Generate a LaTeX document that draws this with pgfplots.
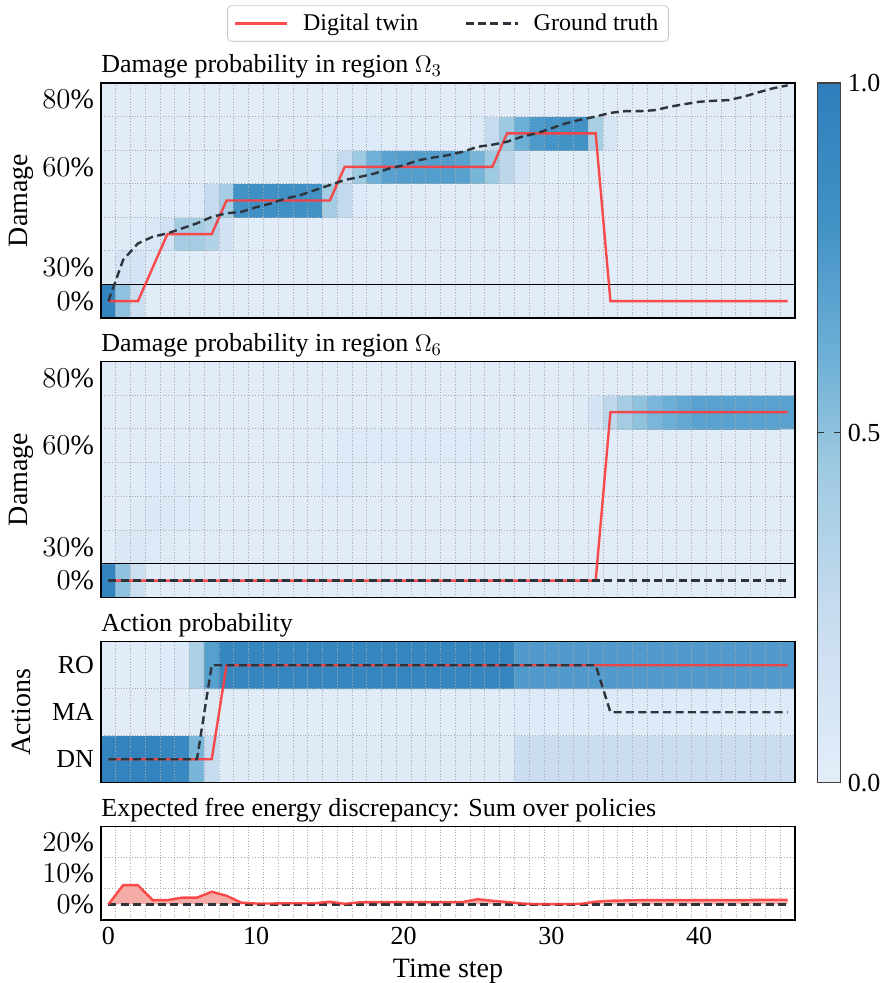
\documentclass[border=0pt]{standalone}
\usepackage{fontspec}
\setmainfont{Liberation Serif}
\usepackage{pgfplots}
\pgfplotsset{compat=1.18}
\definecolor{twin}{RGB}{250,62,62}
\definecolor{truth}{RGB}{45,52,60}
\definecolor{gridc}{RGB}{170,170,170}
\definecolor{twinfill}{RGB}{246,172,166}
\pgfplotsset{
  colormap={myblues}{rgb255(0pt)=(227,238,249) rgb255(25pt)=(198,219,239) rgb255(45pt)=(158,202,225) rgb255(62pt)=(107,174,214) rgb255(80pt)=(66,146,198) rgb255(100pt)=(46,126,188)},
  base/.style={
    scale only axis, width=347pt, anchor=north west,
    xmin=-0.5, xmax=46.5,
    axis line style={black, line width=0.6pt},
    colormap name=myblues, point meta min=0, point meta max=1,
  },
  heatax/.style={base, xtick=\empty, ytick=\empty},
  panel/.style={base,
    xtick={0,10,20,30,40}, xticklabels={},
    minor xtick={0.5,1.5,...,45.5},
    major tick length=0pt, minor tick length=0pt,
    xminorgrids, yminorgrids,
    minor grid style={gridc, densely dotted, line width=0.45pt},
    tick label style={font=\fontsize{13}{15}\selectfont},
    ylabel style={font=\fontsize{14}{17}\selectfont, at={(axis description cs:0,0.5)}, anchor=center, yshift=39.6pt},
    title style={font=\fontsize{13}{15}\selectfont, at={(axis description cs:0,1)}, anchor=base west, yshift=-1pt, inner sep=0pt},
  },
  pct/.style={yticklabel style={font=\fontsize{14}{16}\selectfont}},
  dmg/.style={pct,
    ymin=-0.5, ymax=6.5, ytick={0,1,4,6},
    yticklabels={$0\%$,$30\%$,$60\%$,$80\%$},
    minor ytick={1.5,2.5,3.5,4.5,5.5},
    extra y ticks={0.5}, extra y tick labels={},
    extra y tick style={grid=major, major grid style={black, solid, line width=0.6pt}},
  },
  twinline/.style={twin, line width=1.2pt, opacity=0.92},
  truthline/.style={truth, line width=1.2pt, dash pattern=on 4pt off 2.2pt},
  heat/.style={matrix plot*, mesh/cols=47, point meta=explicit},
}
\begin{document}
\begin{tikzpicture}
\useasboundingbox (0,0) rectangle (444.5pt,-491.5pt);
% ---------------- Panel 1 heat ----------------
\begin{axis}[heatax, at={(50.5pt,-41.5pt)}, height=117.5pt, ymin=-0.5, ymax=6.5,
  colorbar,
  colorbar style={at={(parent axis.north east)}, anchor=north west, xshift=2.6pt,
    width=11.7pt, height=349.8pt,
    ytick={0,0.5,1}, yticklabels={0.0,0.5,1.0},
    yticklabel style={font=\fontsize{13}{15}\selectfont},
    major tick length=3.2pt,
    tick style={black!80, line width=0.6pt},
    axis line style={black!75, line width=0.6pt}},
]
\addplot[heat] table[meta=c, row sep=\\] {x y c\\
0 0 0.95\\ 1 0 0.50\\ 2 0 0.20\\ 3 0 0.03\\ 4 0 0.02\\ 5 0 0.02\\ 6 0 0.02\\ 7 0 0.02\\ 8 0 0.02\\ 9 0 0.02\\ 10 0 0.02\\ 11 0 0.02\\ 12 0 0.02\\ 13 0 0.02\\ 14 0 0.02\\ 15 0 0.02\\ 16 0 0.02\\ 17 0 0.02\\ 18 0 0.02\\ 19 0 0.02\\ 20 0 0.02\\ 21 0 0.02\\ 22 0 0.02\\ 23 0 0.02\\ 24 0 0.02\\ 25 0 0.02\\ 26 0 0.02\\ 27 0 0.02\\ 28 0 0.02\\ 29 0 0.02\\ 30 0 0.02\\ 31 0 0.02\\ 32 0 0.02\\ 33 0 0.02\\ 34 0 0.02\\ 35 0 0.02\\ 36 0 0.02\\ 37 0 0.02\\ 38 0 0.02\\ 39 0 0.02\\ 40 0 0.02\\ 41 0 0.02\\ 42 0 0.02\\ 43 0 0.02\\ 44 0 0.02\\ 45 0 0.02\\ 46 0 0.02\\
0 1 0.04\\ 1 1 0.13\\ 2 1 0.13\\ 3 1 0.07\\ 4 1 0.04\\ 5 1 0.03\\ 6 1 0.03\\ 7 1 0.02\\ 8 1 0.02\\ 9 1 0.02\\ 10 1 0.02\\ 11 1 0.02\\ 12 1 0.02\\ 13 1 0.02\\ 14 1 0.02\\ 15 1 0.02\\ 16 1 0.02\\ 17 1 0.02\\ 18 1 0.02\\ 19 1 0.02\\ 20 1 0.02\\ 21 1 0.02\\ 22 1 0.02\\ 23 1 0.02\\ 24 1 0.02\\ 25 1 0.02\\ 26 1 0.02\\ 27 1 0.02\\ 28 1 0.02\\ 29 1 0.02\\ 30 1 0.02\\ 31 1 0.02\\ 32 1 0.02\\ 33 1 0.02\\ 34 1 0.02\\ 35 1 0.02\\ 36 1 0.02\\ 37 1 0.02\\ 38 1 0.02\\ 39 1 0.02\\ 40 1 0.02\\ 41 1 0.02\\ 42 1 0.02\\ 43 1 0.02\\ 44 1 0.02\\ 45 1 0.02\\ 46 1 0.02\\
0 2 0.02\\ 1 2 0.04\\ 2 2 0.05\\ 3 2 0.09\\ 4 2 0.16\\ 5 2 0.42\\ 6 2 0.42\\ 7 2 0.35\\ 8 2 0.16\\ 9 2 0.04\\ 10 2 0.03\\ 11 2 0.02\\ 12 2 0.02\\ 13 2 0.02\\ 14 2 0.02\\ 15 2 0.02\\ 16 2 0.02\\ 17 2 0.02\\ 18 2 0.02\\ 19 2 0.02\\ 20 2 0.02\\ 21 2 0.02\\ 22 2 0.02\\ 23 2 0.02\\ 24 2 0.02\\ 25 2 0.02\\ 26 2 0.02\\ 27 2 0.02\\ 28 2 0.02\\ 29 2 0.02\\ 30 2 0.02\\ 31 2 0.02\\ 32 2 0.02\\ 33 2 0.02\\ 34 2 0.02\\ 35 2 0.02\\ 36 2 0.02\\ 37 2 0.02\\ 38 2 0.02\\ 39 2 0.02\\ 40 2 0.02\\ 41 2 0.02\\ 42 2 0.02\\ 43 2 0.02\\ 44 2 0.02\\ 45 2 0.02\\ 46 2 0.02\\
0 3 0.02\\ 1 3 0.02\\ 2 3 0.02\\ 3 3 0.03\\ 4 3 0.05\\ 5 3 0.05\\ 6 3 0.06\\ 7 3 0.25\\ 8 3 0.42\\ 9 3 0.80\\ 10 3 0.82\\ 11 3 0.82\\ 12 3 0.82\\ 13 3 0.82\\ 14 3 0.80\\ 15 3 0.42\\ 16 3 0.27\\ 17 3 0.05\\ 18 3 0.03\\ 19 3 0.03\\ 20 3 0.02\\ 21 3 0.02\\ 22 3 0.02\\ 23 3 0.02\\ 24 3 0.02\\ 25 3 0.02\\ 26 3 0.02\\ 27 3 0.02\\ 28 3 0.02\\ 29 3 0.02\\ 30 3 0.02\\ 31 3 0.02\\ 32 3 0.02\\ 33 3 0.02\\ 34 3 0.02\\ 35 3 0.02\\ 36 3 0.02\\ 37 3 0.02\\ 38 3 0.02\\ 39 3 0.02\\ 40 3 0.02\\ 41 3 0.02\\ 42 3 0.02\\ 43 3 0.02\\ 44 3 0.02\\ 45 3 0.02\\ 46 3 0.02\\
0 4 0.02\\ 1 4 0.02\\ 2 4 0.02\\ 3 4 0.02\\ 4 4 0.02\\ 5 4 0.02\\ 6 4 0.02\\ 7 4 0.03\\ 8 4 0.04\\ 9 4 0.04\\ 10 4 0.04\\ 11 4 0.04\\ 12 4 0.04\\ 13 4 0.04\\ 14 4 0.05\\ 15 4 0.10\\ 16 4 0.25\\ 17 4 0.45\\ 18 4 0.60\\ 19 4 0.70\\ 20 4 0.72\\ 21 4 0.72\\ 22 4 0.72\\ 23 4 0.72\\ 24 4 0.70\\ 25 4 0.58\\ 26 4 0.45\\ 27 4 0.30\\ 28 4 0.15\\ 29 4 0.04\\ 30 4 0.03\\ 31 4 0.03\\ 32 4 0.03\\ 33 4 0.04\\ 34 4 0.02\\ 35 4 0.02\\ 36 4 0.02\\ 37 4 0.02\\ 38 4 0.02\\ 39 4 0.02\\ 40 4 0.02\\ 41 4 0.02\\ 42 4 0.02\\ 43 4 0.02\\ 44 4 0.02\\ 45 4 0.02\\ 46 4 0.02\\
0 5 0.02\\ 1 5 0.02\\ 2 5 0.02\\ 3 5 0.02\\ 4 5 0.02\\ 5 5 0.02\\ 6 5 0.02\\ 7 5 0.02\\ 8 5 0.02\\ 9 5 0.02\\ 10 5 0.02\\ 11 5 0.02\\ 12 5 0.02\\ 13 5 0.02\\ 14 5 0.02\\ 15 5 0.05\\ 16 5 0.05\\ 17 5 0.05\\ 18 5 0.05\\ 19 5 0.03\\ 20 5 0.03\\ 21 5 0.03\\ 22 5 0.03\\ 23 5 0.03\\ 24 5 0.03\\ 25 5 0.06\\ 26 5 0.25\\ 27 5 0.45\\ 28 5 0.62\\ 29 5 0.75\\ 30 5 0.78\\ 31 5 0.80\\ 32 5 0.80\\ 33 5 0.40\\ 34 5 0.12\\ 35 5 0.02\\ 36 5 0.02\\ 37 5 0.02\\ 38 5 0.02\\ 39 5 0.02\\ 40 5 0.02\\ 41 5 0.02\\ 42 5 0.02\\ 43 5 0.02\\ 44 5 0.02\\ 45 5 0.02\\ 46 5 0.02\\
0 6 0.02\\ 1 6 0.02\\ 2 6 0.02\\ 3 6 0.02\\ 4 6 0.02\\ 5 6 0.02\\ 6 6 0.02\\ 7 6 0.02\\ 8 6 0.02\\ 9 6 0.02\\ 10 6 0.02\\ 11 6 0.02\\ 12 6 0.02\\ 13 6 0.02\\ 14 6 0.02\\ 15 6 0.02\\ 16 6 0.02\\ 17 6 0.02\\ 18 6 0.02\\ 19 6 0.02\\ 20 6 0.02\\ 21 6 0.02\\ 22 6 0.02\\ 23 6 0.02\\ 24 6 0.02\\ 25 6 0.02\\ 26 6 0.02\\ 27 6 0.02\\ 28 6 0.02\\ 29 6 0.02\\ 30 6 0.02\\ 31 6 0.02\\ 32 6 0.02\\ 33 6 0.03\\ 34 6 0.02\\ 35 6 0.02\\ 36 6 0.02\\ 37 6 0.02\\ 38 6 0.02\\ 39 6 0.02\\ 40 6 0.02\\ 41 6 0.02\\ 42 6 0.02\\ 43 6 0.02\\ 44 6 0.02\\ 45 6 0.02\\ 46 6 0.02\\
};
\end{axis}
% ---------------- Panel 1 lines ----------------
\begin{axis}[panel, dmg, at={(50.5pt,-41.5pt)}, height=117.5pt,
  title={Damage probability in region $\Omega_3$}, ylabel={Damage},
  legend style={at={(axis description cs:0.5,1)}, anchor=south, yshift=20.6pt,
    legend columns=2, draw=black!20, rounded corners=2pt, fill=white,
    font=\fontsize{12}{14}\selectfont, inner xsep=3pt, inner ysep=2pt,
    /tikz/every even column/.append style={column sep=21pt}},
  legend image code/.code={\draw[#1] (0pt,0pt) -- (26pt,0pt); \path (31.5pt,0pt);},
]
\addplot[twinline] coordinates {(0,0) (1,0) (2,0) (3,1) (4,2) (5,2) (6,2) (7,2) (8,3) (9,3) (10,3) (11,3) (12,3) (13,3) (14,3) (15,3) (16,4) (17,4) (18,4) (19,4) (20,4) (21,4) (22,4) (23,4) (24,4) (25,4) (26,4) (27,5) (28,5) (29,5) (30,5) (31,5) (32,5) (33,5) (34,0) (35,0) (36,0) (37,0) (38,0) (39,0) (40,0) (41,0) (42,0) (43,0) (44,0) (45,0) (46,0)};
\addlegendentry{Digital twin}
\addplot[truthline] coordinates {(0,0) (1,1.23) (2,1.72) (3,1.92) (4,2.02) (5,2.17) (6,2.32) (7,2.51) (8,2.62) (9,2.66) (10,2.80) (11,2.91) (12,3.06) (13,3.16) (14,3.31) (15,3.46) (16,3.61) (17,3.70) (18,3.80) (19,3.95) (20,4.05) (21,4.20) (22,4.28) (23,4.35) (24,4.45) (25,4.60) (26,4.66) (27,4.75) (28,4.90) (29,5.00) (30,5.15) (31,5.30) (32,5.41) (33,5.50) (34,5.61) (35,5.66) (36,5.66) (37,5.69) (38,5.79) (39,5.87) (40,5.94) (41,5.97) (42,5.99) (43,6.09) (44,6.22) (45,6.34) (46,6.43)};
\addlegendentry{Ground truth}
\end{axis}
% ---------------- Panel 2 heat ----------------
\begin{axis}[heatax, at={(50.5pt,-180.75pt)}, height=118pt, ymin=-0.5, ymax=6.5]
\addplot[heat] table[meta=c, row sep=\\] {x y c\\
0 0 0.95\\ 1 0 0.50\\ 2 0 0.20\\ 3 0 0.03\\ 4 0 0.02\\ 5 0 0.02\\ 6 0 0.02\\ 7 0 0.02\\ 8 0 0.02\\ 9 0 0.02\\ 10 0 0.02\\ 11 0 0.02\\ 12 0 0.02\\ 13 0 0.02\\ 14 0 0.02\\ 15 0 0.02\\ 16 0 0.02\\ 17 0 0.02\\ 18 0 0.02\\ 19 0 0.02\\ 20 0 0.02\\ 21 0 0.02\\ 22 0 0.02\\ 23 0 0.02\\ 24 0 0.02\\ 25 0 0.02\\ 26 0 0.02\\ 27 0 0.02\\ 28 0 0.02\\ 29 0 0.02\\ 30 0 0.02\\ 31 0 0.02\\ 32 0 0.02\\ 33 0 0.02\\ 34 0 0.02\\ 35 0 0.02\\ 36 0 0.02\\ 37 0 0.02\\ 38 0 0.02\\ 39 0 0.02\\ 40 0 0.02\\ 41 0 0.02\\ 42 0 0.02\\ 43 0 0.02\\ 44 0 0.02\\ 45 0 0.02\\ 46 0 0.02\\
0 1 0.03\\ 1 1 0.08\\ 2 1 0.08\\ 3 1 0.06\\ 4 1 0.04\\ 5 1 0.03\\ 6 1 0.02\\ 7 1 0.02\\ 8 1 0.02\\ 9 1 0.02\\ 10 1 0.02\\ 11 1 0.02\\ 12 1 0.02\\ 13 1 0.02\\ 14 1 0.02\\ 15 1 0.02\\ 16 1 0.02\\ 17 1 0.02\\ 18 1 0.02\\ 19 1 0.02\\ 20 1 0.02\\ 21 1 0.02\\ 22 1 0.02\\ 23 1 0.02\\ 24 1 0.02\\ 25 1 0.02\\ 26 1 0.02\\ 27 1 0.02\\ 28 1 0.02\\ 29 1 0.02\\ 30 1 0.02\\ 31 1 0.02\\ 32 1 0.02\\ 33 1 0.02\\ 34 1 0.02\\ 35 1 0.02\\ 36 1 0.02\\ 37 1 0.02\\ 38 1 0.02\\ 39 1 0.02\\ 40 1 0.02\\ 41 1 0.02\\ 42 1 0.02\\ 43 1 0.02\\ 44 1 0.02\\ 45 1 0.02\\ 46 1 0.02\\
0 2 0.02\\ 1 2 0.02\\ 2 2 0.04\\ 3 2 0.07\\ 4 2 0.07\\ 5 2 0.06\\ 6 2 0.05\\ 7 2 0.03\\ 8 2 0.02\\ 9 2 0.02\\ 10 2 0.02\\ 11 2 0.02\\ 12 2 0.02\\ 13 2 0.02\\ 14 2 0.02\\ 15 2 0.02\\ 16 2 0.02\\ 17 2 0.02\\ 18 2 0.02\\ 19 2 0.02\\ 20 2 0.02\\ 21 2 0.02\\ 22 2 0.02\\ 23 2 0.02\\ 24 2 0.02\\ 25 2 0.02\\ 26 2 0.02\\ 27 2 0.02\\ 28 2 0.02\\ 29 2 0.02\\ 30 2 0.02\\ 31 2 0.02\\ 32 2 0.02\\ 33 2 0.02\\ 34 2 0.02\\ 35 2 0.02\\ 36 2 0.02\\ 37 2 0.02\\ 38 2 0.02\\ 39 2 0.02\\ 40 2 0.02\\ 41 2 0.02\\ 42 2 0.02\\ 43 2 0.02\\ 44 2 0.02\\ 45 2 0.02\\ 46 2 0.02\\
0 3 0.02\\ 1 3 0.02\\ 2 3 0.03\\ 3 3 0.05\\ 4 3 0.05\\ 5 3 0.04\\ 6 3 0.03\\ 7 3 0.02\\ 8 3 0.02\\ 9 3 0.02\\ 10 3 0.02\\ 11 3 0.02\\ 12 3 0.02\\ 13 3 0.02\\ 14 3 0.02\\ 15 3 0.06\\ 16 3 0.06\\ 17 3 0.04\\ 18 3 0.02\\ 19 3 0.02\\ 20 3 0.02\\ 21 3 0.02\\ 22 3 0.02\\ 23 3 0.02\\ 24 3 0.02\\ 25 3 0.02\\ 26 3 0.02\\ 27 3 0.02\\ 28 3 0.02\\ 29 3 0.02\\ 30 3 0.02\\ 31 3 0.02\\ 32 3 0.02\\ 33 3 0.02\\ 34 3 0.02\\ 35 3 0.02\\ 36 3 0.02\\ 37 3 0.02\\ 38 3 0.02\\ 39 3 0.02\\ 40 3 0.02\\ 41 3 0.02\\ 42 3 0.02\\ 43 3 0.02\\ 44 3 0.02\\ 45 3 0.02\\ 46 3 0.02\\
0 4 0.02\\ 1 4 0.02\\ 2 4 0.02\\ 3 4 0.02\\ 4 4 0.02\\ 5 4 0.02\\ 6 4 0.02\\ 7 4 0.02\\ 8 4 0.02\\ 9 4 0.02\\ 10 4 0.02\\ 11 4 0.02\\ 12 4 0.02\\ 13 4 0.02\\ 14 4 0.02\\ 15 4 0.03\\ 16 4 0.06\\ 17 4 0.06\\ 18 4 0.06\\ 19 4 0.06\\ 20 4 0.06\\ 21 4 0.06\\ 22 4 0.06\\ 23 4 0.06\\ 24 4 0.06\\ 25 4 0.06\\ 26 4 0.04\\ 27 4 0.02\\ 28 4 0.02\\ 29 4 0.02\\ 30 4 0.02\\ 31 4 0.02\\ 32 4 0.02\\ 33 4 0.02\\ 34 4 0.02\\ 35 4 0.02\\ 36 4 0.02\\ 37 4 0.02\\ 38 4 0.02\\ 39 4 0.02\\ 40 4 0.02\\ 41 4 0.02\\ 42 4 0.02\\ 43 4 0.02\\ 44 4 0.02\\ 45 4 0.02\\ 46 4 0.02\\
0 5 0.02\\ 1 5 0.02\\ 2 5 0.02\\ 3 5 0.02\\ 4 5 0.02\\ 5 5 0.02\\ 6 5 0.02\\ 7 5 0.02\\ 8 5 0.02\\ 9 5 0.02\\ 10 5 0.02\\ 11 5 0.02\\ 12 5 0.02\\ 13 5 0.02\\ 14 5 0.02\\ 15 5 0.02\\ 16 5 0.02\\ 17 5 0.02\\ 18 5 0.02\\ 19 5 0.02\\ 20 5 0.02\\ 21 5 0.02\\ 22 5 0.02\\ 23 5 0.02\\ 24 5 0.02\\ 25 5 0.02\\ 26 5 0.02\\ 27 5 0.02\\ 28 5 0.02\\ 29 5 0.02\\ 30 5 0.02\\ 31 5 0.02\\ 32 5 0.04\\ 33 5 0.13\\ 34 5 0.28\\ 35 5 0.42\\ 36 5 0.50\\ 37 5 0.57\\ 38 5 0.62\\ 39 5 0.66\\ 40 5 0.70\\ 41 5 0.70\\ 42 5 0.70\\ 43 5 0.70\\ 44 5 0.70\\ 45 5 0.70\\ 46 5 0.70\\
0 6 0.02\\ 1 6 0.02\\ 2 6 0.02\\ 3 6 0.02\\ 4 6 0.02\\ 5 6 0.02\\ 6 6 0.02\\ 7 6 0.02\\ 8 6 0.02\\ 9 6 0.02\\ 10 6 0.02\\ 11 6 0.02\\ 12 6 0.02\\ 13 6 0.02\\ 14 6 0.02\\ 15 6 0.02\\ 16 6 0.02\\ 17 6 0.02\\ 18 6 0.02\\ 19 6 0.02\\ 20 6 0.02\\ 21 6 0.02\\ 22 6 0.02\\ 23 6 0.02\\ 24 6 0.02\\ 25 6 0.02\\ 26 6 0.02\\ 27 6 0.02\\ 28 6 0.02\\ 29 6 0.02\\ 30 6 0.02\\ 31 6 0.02\\ 32 6 0.02\\ 33 6 0.02\\ 34 6 0.02\\ 35 6 0.02\\ 36 6 0.02\\ 37 6 0.02\\ 38 6 0.02\\ 39 6 0.02\\ 40 6 0.02\\ 41 6 0.02\\ 42 6 0.02\\ 43 6 0.02\\ 44 6 0.02\\ 45 6 0.02\\ 46 6 0.02\\
};
\end{axis}
% ---------------- Panel 2 lines ----------------
\begin{axis}[panel, dmg, at={(50.5pt,-180.75pt)}, height=118pt,
  title={Damage probability in region $\Omega_6$}, ylabel={Damage}]
\addplot[twinline] coordinates {(0,0) (1,0) (2,0) (3,0) (4,0) (5,0) (6,0) (7,0) (8,0) (9,0) (10,0) (11,0) (12,0) (13,0) (14,0) (15,0) (16,0) (17,0) (18,0) (19,0) (20,0) (21,0) (22,0) (23,0) (24,0) (25,0) (26,0) (27,0) (28,0) (29,0) (30,0) (31,0) (32,0) (33,0) (34,5) (35,5) (36,5) (37,5) (38,5) (39,5) (40,5) (41,5) (42,5) (43,5) (44,5) (45,5) (46,5)};
\addplot[truthline] coordinates {(0,0) (1,0) (2,0) (3,0) (4,0) (5,0) (6,0) (7,0) (8,0) (9,0) (10,0) (11,0) (12,0) (13,0) (14,0) (15,0) (16,0) (17,0) (18,0) (19,0) (20,0) (21,0) (22,0) (23,0) (24,0) (25,0) (26,0) (27,0) (28,0) (29,0) (30,0) (31,0) (32,0) (33,0) (34,0) (35,0) (36,0) (37,0) (38,0) (39,0) (40,0) (41,0) (42,0) (43,0) (44,0) (45,0) (46,0)};
\end{axis}
% ---------------- Panel 3 heat ----------------
\begin{axis}[heatax, at={(50.5pt,-320.85pt)}, height=70.5pt, ymin=-0.5, ymax=2.5]
\addplot[heat] table[meta=c, row sep=\\] {x y c\\
0 0 0.95\\ 1 0 0.95\\ 2 0 0.95\\ 3 0 0.95\\ 4 0 0.93\\ 5 0 0.90\\ 6 0 0.58\\ 7 0 0.25\\ 8 0 0.04\\ 9 0 0.04\\ 10 0 0.04\\ 11 0 0.04\\ 12 0 0.04\\ 13 0 0.04\\ 14 0 0.04\\ 15 0 0.04\\ 16 0 0.04\\ 17 0 0.04\\ 18 0 0.04\\ 19 0 0.04\\ 20 0 0.04\\ 21 0 0.04\\ 22 0 0.04\\ 23 0 0.04\\ 24 0 0.04\\ 25 0 0.04\\ 26 0 0.04\\ 27 0 0.04\\ 28 0 0.21\\ 29 0 0.21\\ 30 0 0.21\\ 31 0 0.21\\ 32 0 0.21\\ 33 0 0.21\\ 34 0 0.21\\ 35 0 0.21\\ 36 0 0.21\\ 37 0 0.21\\ 38 0 0.21\\ 39 0 0.21\\ 40 0 0.21\\ 41 0 0.21\\ 42 0 0.21\\ 43 0 0.21\\ 44 0 0.21\\ 45 0 0.21\\ 46 0 0.21\\
0 1 0.02\\ 1 1 0.02\\ 2 1 0.02\\ 3 1 0.02\\ 4 1 0.02\\ 5 1 0.02\\ 6 1 0.04\\ 7 1 0.04\\ 8 1 0.03\\ 9 1 0.03\\ 10 1 0.03\\ 11 1 0.03\\ 12 1 0.03\\ 13 1 0.03\\ 14 1 0.03\\ 15 1 0.03\\ 16 1 0.03\\ 17 1 0.03\\ 18 1 0.03\\ 19 1 0.03\\ 20 1 0.03\\ 21 1 0.03\\ 22 1 0.03\\ 23 1 0.03\\ 24 1 0.03\\ 25 1 0.03\\ 26 1 0.03\\ 27 1 0.03\\ 28 1 0.05\\ 29 1 0.05\\ 30 1 0.05\\ 31 1 0.05\\ 32 1 0.05\\ 33 1 0.05\\ 34 1 0.05\\ 35 1 0.05\\ 36 1 0.05\\ 37 1 0.05\\ 38 1 0.05\\ 39 1 0.05\\ 40 1 0.05\\ 41 1 0.05\\ 42 1 0.05\\ 43 1 0.05\\ 44 1 0.05\\ 45 1 0.05\\ 46 1 0.05\\
0 2 0.03\\ 1 2 0.03\\ 2 2 0.03\\ 3 2 0.03\\ 4 2 0.05\\ 5 2 0.08\\ 6 2 0.38\\ 7 2 0.71\\ 8 2 0.93\\ 9 2 0.93\\ 10 2 0.93\\ 11 2 0.93\\ 12 2 0.93\\ 13 2 0.93\\ 14 2 0.93\\ 15 2 0.93\\ 16 2 0.93\\ 17 2 0.93\\ 18 2 0.93\\ 19 2 0.93\\ 20 2 0.93\\ 21 2 0.93\\ 22 2 0.93\\ 23 2 0.93\\ 24 2 0.93\\ 25 2 0.93\\ 26 2 0.93\\ 27 2 0.93\\ 28 2 0.74\\ 29 2 0.74\\ 30 2 0.74\\ 31 2 0.74\\ 32 2 0.74\\ 33 2 0.74\\ 34 2 0.74\\ 35 2 0.74\\ 36 2 0.74\\ 37 2 0.74\\ 38 2 0.74\\ 39 2 0.74\\ 40 2 0.74\\ 41 2 0.74\\ 42 2 0.74\\ 43 2 0.74\\ 44 2 0.74\\ 45 2 0.74\\ 46 2 0.74\\
};
\end{axis}
% ---------------- Panel 3 lines ----------------
\begin{axis}[panel, at={(50.5pt,-320.85pt)}, height=70.5pt,
  title={Action probability}, ylabel={Actions},
  ymin=-0.5, ymax=2.5, ytick={0,1,2}, yticklabels={DN,MA,RO},
  minor ytick={0.5,1.5}]
\addplot[twinline] coordinates {(0,0) (1,0) (2,0) (3,0) (4,0) (5,0) (6,0) (7,0) (8,2) (9,2) (10,2) (11,2) (12,2) (13,2) (14,2) (15,2) (16,2) (17,2) (18,2) (19,2) (20,2) (21,2) (22,2) (23,2) (24,2) (25,2) (26,2) (27,2) (28,2) (29,2) (30,2) (31,2) (32,2) (33,2) (34,2) (35,2) (36,2) (37,2) (38,2) (39,2) (40,2) (41,2) (42,2) (43,2) (44,2) (45,2) (46,2)};
\addplot[truthline] coordinates {(0,0) (1,0) (2,0) (3,0) (4,0) (5,0) (6,0) (7,2) (8,2) (9,2) (10,2) (11,2) (12,2) (13,2) (14,2) (15,2) (16,2) (17,2) (18,2) (19,2) (20,2) (21,2) (22,2) (23,2) (24,2) (25,2) (26,2) (27,2) (28,2) (29,2) (30,2) (31,2) (32,2) (33,2) (34,1) (35,1) (36,1) (37,1) (38,1) (39,1) (40,1) (41,1) (42,1) (43,1) (44,1) (45,1) (46,1)};
\end{axis}
% ---------------- Panel 4 ----------------
\begin{axis}[panel, pct, at={(50.5pt,-413.35pt)}, height=46.65pt,
  title={Expected free energy discrepancy: Sum over policies},
  ymin=-5, ymax=25, ytick={0,10,20}, yticklabels={$0\%$,$10\%$,$20\%$},
  minor ytick={5,15},
  xticklabels={0,10,20,30,40},
  xlabel={Time step},
  xlabel style={font=\fontsize{14}{17}\selectfont, at={(axis description cs:0.5,0)}, anchor=center, yshift=-25.5pt}]
\addplot[draw=none, fill=twinfill] coordinates {(0,0) (1,6.2) (2,6.2) (3,1.4) (4,1.4) (5,2.2) (6,2.2) (7,4.1) (8,2.8) (9,0.6) (10,0.3) (11,0.3) (12,0.4) (13,0.4) (14,0.4) (15,0.9) (16,0.2) (17,0.7) (18,0.8) (19,0.8) (20,0.8) (21,0.8) (22,0.8) (23,0.8) (24,0.8) (25,1.7) (26,1.2) (27,0.8) (28,0.3) (29,0.1) (30,0.1) (31,0.1) (32,0.2) (33,0.9) (34,1.2) (35,1.3) (36,1.4) (37,1.4) (38,1.4) (39,1.4) (40,1.4) (41,1.4) (42,1.4) (43,1.4) (44,1.5) (45,1.5) (46,1.5) (46,0) (0,0)};
\addplot[truthline] coordinates {(0,0) (1,0) (2,0) (3,0) (4,0) (5,0) (6,0) (7,0) (8,0) (9,0) (10,0) (11,0) (12,0) (13,0) (14,0) (15,0) (16,0) (17,0) (18,0) (19,0) (20,0) (21,0) (22,0) (23,0) (24,0) (25,0) (26,0) (27,0) (28,0) (29,0) (30,0) (31,0) (32,0) (33,0) (34,0) (35,0) (36,0) (37,0) (38,0) (39,0) (40,0) (41,0) (42,0) (43,0) (44,0) (45,0) (46,0)};
\addplot[twinline] coordinates {(0,0) (1,6.2) (2,6.2) (3,1.4) (4,1.4) (5,2.2) (6,2.2) (7,4.1) (8,2.8) (9,0.6) (10,0.3) (11,0.3) (12,0.4) (13,0.4) (14,0.4) (15,0.9) (16,0.2) (17,0.7) (18,0.8) (19,0.8) (20,0.8) (21,0.8) (22,0.8) (23,0.8) (24,0.8) (25,1.7) (26,1.2) (27,0.8) (28,0.3) (29,0.1) (30,0.1) (31,0.1) (32,0.2) (33,0.9) (34,1.2) (35,1.3) (36,1.4) (37,1.4) (38,1.4) (39,1.4) (40,1.4) (41,1.4) (42,1.4) (43,1.4) (44,1.5) (45,1.5) (46,1.5)};
\end{axis}
\end{tikzpicture}
\end{document}
